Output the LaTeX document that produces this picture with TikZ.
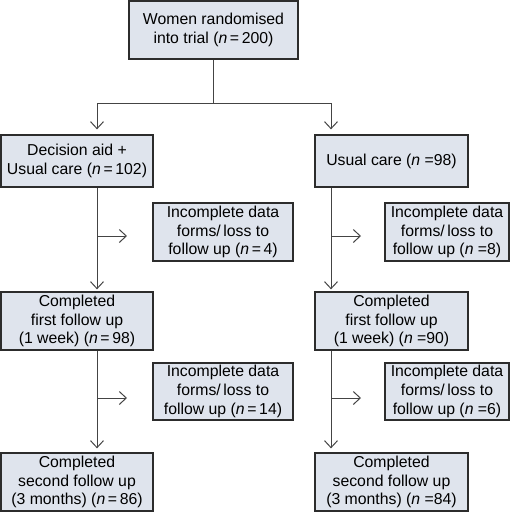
\documentclass[tikz,border=0pt]{standalone}
\usepackage{fontspec}
\setmainfont{Liberation Sans}
\usetikzlibrary{arrows.meta,calc}
\definecolor{boxfill}{HTML}{DFE4ED}
\definecolor{boxline}{HTML}{2C2C2C}
\definecolor{conline}{HTML}{444444}
\begin{document}
\begin{tikzpicture}[x=1pt,y=-1pt,
  box/.style={draw=boxline,fill=boxfill,line width=1.3pt,align=center,inner sep=0pt,
    font=\fontsize{15.8}{18.7}\selectfont},
  arr/.style={draw=conline,line width=1pt,-{Straight Barb[length=7pt,width=13pt,line width=1pt]}},
  con/.style={draw=conline,line width=1pt}]
\useasboundingbox (0,0) rectangle (520,512);
\node[box,minimum width=169pt,minimum height=58pt] (t) at (213.5,30) {Women randomised\\into trial (\textit{n}\,=\,200)};
\node[box,minimum width=152pt,minimum height=52pt] (a) at (77,161) {Decision aid +\\Usual care (\textit{n}\,=\,102)};
\node[box,minimum width=153pt,minimum height=52pt] (b) at (391.5,161) {Usual care (\textit{n} =98)};
\node[box,minimum width=140pt,minimum height=58pt] (a1) at (223,232) {Incomplete data\\forms/\,loss to\\follow up (\textit{n}\,=\,4)};
\node[box,minimum width=124pt,minimum height=58pt] (b1) at (447,232) {Incomplete data\\forms/\,loss to\\follow up (\textit{n} =8)};
\node[box,minimum width=152pt,minimum height=58pt] (a2) at (77,321) {Completed\\first follow up\\(1 week) (\textit{n}\,=\,98)};
\node[box,minimum width=153pt,minimum height=58pt] (b2) at (391.5,321) {Completed\\first follow up\\(1 week) (\textit{n} =90)};
\node[box,minimum width=140pt,minimum height=57pt] (a3) at (223,391.5) {Incomplete data\\forms/\,loss to\\follow up (\textit{n}\,=\,14)};
\node[box,minimum width=124pt,minimum height=57pt] (b3) at (447,391.5) {Incomplete data\\forms/\,loss to\\follow up (\textit{n} =6)};
\node[box,minimum width=152pt,minimum height=58pt] (a4) at (77,482) {Completed\\second follow up\\(3 months) (\textit{n}\,=\,86)};
\node[box,minimum width=153pt,minimum height=58pt] (b4) at (391.5,482) {Completed\\second follow up\\(3 months) (\textit{n} =84)};
\coordinate (j) at (213.5,103);
\coordinate (ca) at (97,0);
\coordinate (cb) at (331,0);
\coordinate (ea1) at (127,236);
\coordinate (eb1) at (361,236);
\coordinate (ea3) at (127,398);
\coordinate (eb3) at (361,398);
\draw[con] (t.south) -- (j);
\draw[con] (ca|-j) -- (cb|-j);
\draw[arr,shorten >=5pt] (ca|-j) -- (ca|-a.north);
\draw[arr,shorten >=5pt] (cb|-j) -- (cb|-b.north);
\draw[arr,shorten >=2pt] (ca|-a.south) -- (ca|-a2.north);
\draw[arr,shorten >=2pt] (cb|-b.south) -- (cb|-b2.north);
\draw[arr,shorten >=4pt] (ca|-a2.south) -- (ca|-a4.north);
\draw[arr,shorten >=4pt] (cb|-b2.south) -- (cb|-b4.north);
\draw[arr] (ca|-ea1) -- (ea1);
\draw[arr] (cb|-eb1) -- (eb1);
\draw[arr] (ca|-ea3) -- (ea3);
\draw[arr] (cb|-eb3) -- (eb3);
\end{tikzpicture}
\end{document}
